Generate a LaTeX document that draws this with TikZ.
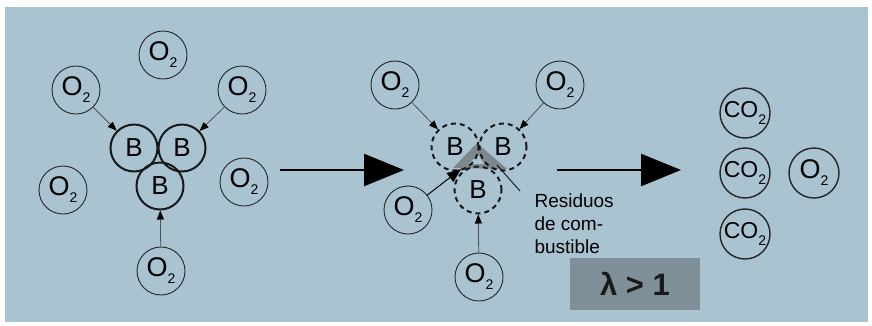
\documentclass[tikz,border=0pt]{standalone}
\usepackage{fontspec}
\setmainfont{Liberation Sans}
\usepackage{xcolor}
\usepackage{tikz}
\usetikzlibrary{positioning, arrows.meta}

\definecolor{bgblue}{HTML}{A9C3D0}
\definecolor{residue}{HTML}{7E878C}
\definecolor{lambdabox}{HTML}{7F8F98}
\definecolor{inkgray}{HTML}{505050}

\newcommand{\molsub}{\raisebox{-7pt}{\fontsize{14}{14}\selectfont 2}}

\begin{document}
\begin{tikzpicture}[x=1pt, y=-1pt,
    % Define styles for the nodes and paths
        oxy/.style={draw=black!85, circle, line width=0.9pt, minimum size=48pt, inner sep=0pt, font=\fontsize{27}{27}\selectfont},
        fuel/.style={draw=black!90, circle, line width=2pt, minimum size=47pt, inner sep=0pt, font=\fontsize{26}{26}\selectfont},
        burnt/.style={fuel, dash pattern=on 5pt off 4pt},
        carbon/.style={oxy, line width=1.4pt, minimum size=50pt, font=\fontsize{23}{23}\selectfont},
        feed/.style={-{Triangle[length=9pt, width=7pt, color=black]}, draw=inkgray, line width=0.8pt},
        bigfeed/.style={-{Triangle[length=14pt, width=11pt]}, draw=black, line width=1pt},
        stage/.style={-{Triangle[length=40pt, width=32pt]}, draw=black, line width=2.5pt},
        textnode/.style={align=left, font=\fontsize{19}{23}\selectfont}
    ]
    
        % Background and frame
        \useasboundingbox (0,0) rectangle (872,325);
        \fill[bgblue] (5,7) rectangle (868,322);
    
        % Define the nodes: before the burn
        \node[oxy] (otop) at (163,55) {O\molsub};
        \node[oxy] (otl) at (76,90) {O\molsub};
        \node[oxy] (otr) at (242,90) {O\molsub};
        \node[oxy] (oleft) at (63,190) {O\molsub};
        \node[oxy] (oright) at (244,182) {O\molsub};
        \node[oxy] (obot) at (161,271) {O\molsub};
        
        \node[fuel] (bl) at (134,148) {B};
        \node[fuel, right=-1pt of bl] (br) {B};
        \node[fuel] (bb) at (160,186) {B};
    
        % Residue between the burnt droplets
        \fill[residue] (453,168) -- (507,169) -- (477,143) -- cycle;
        \fill[bgblue] (469,164) -- (484,164) -- (478,154) -- cycle;
    
        % Define the nodes: during the burn
        \node[oxy] (otl2) at (395,85) {O\molsub};
        \node[oxy] (otr2) at (560,85) {O\molsub};
        \node[oxy] (oleft2) at (408,210) {O\molsub};
        \node[oxy] (obot2) at (479,277) {O\molsub};
        
        \node[burnt] (bl2) at (455,147) {B};
        \node[burnt] (br2) at (503,147) {B};
        \node[burnt] (bb2) at (478,190) {B};
        
        \coordinate (gap) at (461,169);
        \coordinate (resA) at (497,165);
        \coordinate (resB) at (520,191);
        
        \node[textnode, anchor=north west] (resid) at (531,190) {Residuos\\de com-\\bustible};
        
        \node[fill=lambdabox, minimum width=130pt, minimum height=52pt, text=black!90,
              font=\bfseries\fontsize{31}{31}\selectfont] (ratio) at (635,284) {λ > 1};
    
        % Define the nodes: after the burn
        \node[carbon] (co1) at (745,113) {CO\molsub};
        \node[carbon] (co2) at (745,173) {CO\molsub};
        \node[carbon] (co3) at (745,234) {CO\molsub};
        \node[carbon, font=\fontsize{27}{27}\selectfont] (orest) at (814,173) {O\molsub};
    
        % Draw the arrows
        \draw[feed] (otl) -- (bl);
        \draw[feed] (otr) -- (br);
        \draw[feed] (obot) -- (bb);
        
        \draw[feed] (otl2) -- (bl2);
        \draw[feed] (otr2) -- (br2);
        \draw[feed] (obot2) -- (bb2);
        \draw[bigfeed] (oleft2) -- (gap);
        \draw[line width=0.8pt] (resA) -- (resB);
        
        \coordinate (s1a) at (280,170);
        \coordinate (s1b) at (404,170);
        \coordinate (s2a) at (557,170);
        \coordinate (s2b) at (681,170);
        \draw[stage] (s1a) -- (s1b);
        \draw[stage] (s2a) -- (s2b);
    \end{tikzpicture}
\end{document}
